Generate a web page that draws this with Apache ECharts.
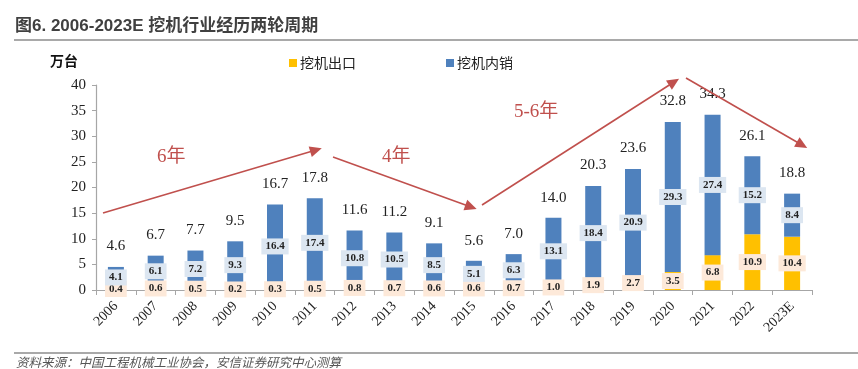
<!DOCTYPE html>
<html>
<head>
<meta charset="utf-8">
<script src="https://cdn.jsdelivr.net/npm/echarts@6/dist/echarts.min.js"></script>
<style>
  html, body { margin: 0; padding: 0; background: #fff; }
  #chart { width: 858px; height: 369px; }
</style>
</head>
<body>
<div id="chart"></div>
<script>
var years = ['2006', '2007', '2008', '2009', '2010', '2011', '2012', '2013', '2014',
             '2015', '2016', '2017', '2018', '2019', '2020', '2021', '2022', '2023E'];
var exportVals = [0.4, 0.6, 0.5, 0.2, 0.3, 0.5, 0.8, 0.7, 0.6, 0.6, 0.7, 1.0, 1.9, 2.7, 3.5, 6.8, 10.9, 10.4];
var domesticVals = [4.1, 6.1, 7.2, 9.3, 16.4, 17.4, 10.8, 10.5, 8.5, 5.1, 6.3, 13.1, 18.4, 20.9, 29.3, 27.4, 15.2, 8.4];
var totalVals = [4.6, 6.7, 7.7, 9.5, 16.7, 17.8, 11.6, 11.2, 9.1, 5.6, 7.0, 14.0, 20.3, 23.6, 32.8, 34.3, 26.1, 18.8];
var seriesNames = ['挖机出口', '挖机内销'];
var yMin = 0, yMax = 40, yStep = 5;

var serif = '"Liberation Serif", "Noto Sans CJK SC", serif';
var red = '#c0504d';

var chart = echarts.init(document.getElementById('chart'));

function fmt(p) { return p.value.toFixed(1); }

var arrowStyle = { color: red, width: 1.6, type: 'solid' };

var option = {
    animation: false,
    grid: { left: 96, right: 46, top: 85, bottom: 79 },
    legend: {
        left: 284,
        top: 51,
        itemWidth: 8,
        itemHeight: 8,
        itemGap: 90,
        icon: 'rect',
        data: seriesNames,
        textStyle: { fontSize: 14, color: '#222', fontFamily: '"Noto Sans CJK SC"', padding: [0, 0, 0, -2] }
    },
    xAxis: {
        type: 'category',
        data: years,
        axisLine: { lineStyle: { color: '#a6a6a6', width: 1.2 } },
        axisTick: { show: true, length: 5, lineStyle: { color: '#a6a6a6' } },
        axisLabel: { rotate: 45, margin: 14, fontSize: 14, color: '#222', fontFamily: serif, interval: 0 }
    },
    yAxis: {
        type: 'value',
        min: yMin,
        max: yMax,
        interval: yStep,
        splitLine: { show: false },
        axisLine: { show: true, lineStyle: { color: '#a6a6a6', width: 1.2 } },
        axisTick: { show: true, length: 4, lineStyle: { color: '#a6a6a6' } },
        axisLabel: { fontSize: 15, color: '#222', fontFamily: serif, margin: 10 }
    },
    series: [
        {
            name: seriesNames[0],
            type: 'bar',
            stack: 'all',
            barWidth: 16,
            data: exportVals,
            itemStyle: { color: '#ffc000' },
            label: {
                show: true, position: 'inside', formatter: fmt,
                fontSize: 11, fontWeight: 'bold', color: '#222', fontFamily: serif,
                backgroundColor: '#fde9d9', padding: [3, 4, 2, 4]
            }
        },
        {
            name: seriesNames[1],
            type: 'bar',
            stack: 'all',
            barWidth: 16,
            data: domesticVals,
            itemStyle: { color: '#4f81bd' },
            label: {
                show: true, position: 'inside', formatter: fmt,
                fontSize: 11, fontWeight: 'bold', color: '#222', fontFamily: serif,
                backgroundColor: '#dce6f1', padding: [3, 4, 2, 4]
            },
            markLine: {
                silent: true,
                symbol: ['none', 'triangle'],
                symbolSize: [11, 12],
                lineStyle: arrowStyle,
                label: { show: false },
                data: [
                    [{ x: 103, y: 213 }, { x: 316, y: 150 }],
                    [{ x: 333, y: 157 }, { x: 471, y: 207 }],
                    [{ x: 482, y: 205 }, { x: 674, y: 82 }],
                    [{ x: 686, y: 78 }, { x: 802, y: 145 }]
                ]
            }
        },
        {
            name: '合计',
            type: 'bar',
            barWidth: 16,
            barGap: '-100%',
            silent: true,
            z: 1,
            data: totalVals,
            itemStyle: { color: 'rgba(0,0,0,0)' },
            label: {
                show: true, position: 'top', distance: 13, formatter: fmt,
                fontSize: 15, color: '#222', fontFamily: serif
            }
        }
    ],
    graphic: [
        {
            type: 'text', left: 15, top: 18,
            style: { text: '图6. 2006-2023E 挖机行业经历两轮周期', fontSize: 17, fontWeight: 'bold',
                     fill: '#404040', fontFamily: 'Arial, "Liberation Sans", "Noto Sans CJK SC"' }
        },
        {
            type: 'line', shape: { x1: 14, y1: 40, x2: 858, y2: 40 },
            style: { stroke: '#8c8c8c', lineWidth: 1.5 }
        },
        {
            type: 'text', left: 50, top: 54,
            style: { text: '万台', fontSize: 14, fontWeight: 'bold', fill: '#111', fontFamily: '"Noto Sans CJK SC"' }
        },
        {
            type: 'text', left: 157, top: 148,
            style: { text: '6年', fontSize: 19, fill: red, fontFamily: serif }
        },
        {
            type: 'text', left: 382, top: 148,
            style: { text: '4年', fontSize: 19, fill: red, fontFamily: serif }
        },
        {
            type: 'text', left: 514, top: 103,
            style: { text: '5-6年', fontSize: 19, fill: red, fontFamily: serif }
        },
        {
            type: 'line', shape: { x1: 14, y1: 353, x2: 858, y2: 353 },
            style: { stroke: '#8c8c8c', lineWidth: 1.5 }
        },
        {
            type: 'text', left: 16, top: 356,
            style: { text: '资料来源：中国工程机械工业协会，安信证券研究中心测算', fontSize: 12.5,
                     fontStyle: 'italic', fill: '#555', fontFamily: '"Noto Sans CJK SC"' }
        }
    ]
};

chart.setOption(option);
</script>
</body>
</html>
